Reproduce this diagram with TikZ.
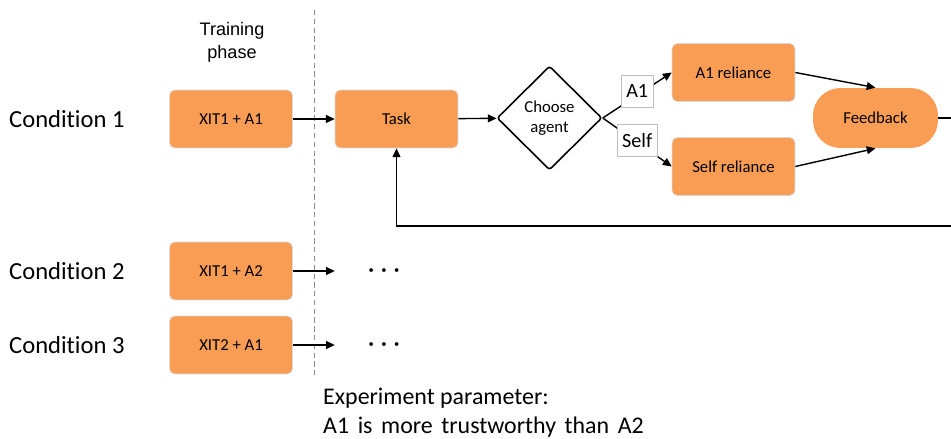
\documentclass[tikz,border=0pt]{standalone}
\usepackage{fontspec}
\setmainfont[Ligatures=NoCommon]{Carlito}
\newfontfamily\arialfont{Liberation Sans}
\usetikzlibrary{shapes.geometric,arrows.meta}
\definecolor{boxorange}{HTML}{F99D55}
\begin{document}
\begin{tikzpicture}[x=0.02cm,y=-0.02cm,
    box/.style={draw=black!15, fill=boxorange, rounded corners=3pt, minimum width=2.46cm, minimum height=1.16cm, font=\fontsize{9.5}{11}\selectfont},
    decision/.style={draw, diamond, line width=0.9pt, rounded corners=1.5pt, minimum width=2.1cm, minimum height=2.08cm, inner sep=0pt, align=center, font=\fontsize{9.5}{11}\selectfont},
    terminal/.style={fill=boxorange, rounded corners=0.55cm, minimum width=2.5cm, minimum height=1.2cm, font=\fontsize{9.5}{11}\selectfont},
    tag/.style={draw=black!25, fill=white, line width=0.4pt, minimum height=0.64cm, inner sep=3pt, font=\fontsize{11.5}{13}\selectfont},
    cond/.style={anchor=west, font=\fontsize{14}{16}\selectfont},
    flow/.style={line width=0.8pt, -{Triangle[length=5pt,width=4.5pt]}}]
    \useasboundingbox (0,0) rectangle (951,439);
    % Phase split
    \node[font=\arialfont\fontsize{10.3}{13}\selectfont, align=center] (phase) at (232,42) {Training\\phase};
    \draw[black!45, densely dashed, line width=0.5pt] (314,10) -- (314,378);
    % Condition 1
    \node[cond] (cond1) at (3,119) {Condition 1};
    \node[box] (train1) at (231,119) {XIT1 + A1};
    \node[box] (task) at (396.5,119) {Task};
    \node[decision] (choose) at (549.5,118) {Choose\\agent};
    \node[box] (relyA) at (733.5,72.5) {A1 reliance};
    \node[box] (relyS) at (733.5,166.5) {Self reliance};
    \node[terminal] (feedback) at (875.5,118) {Feedback};
    \coordinate (loopA) at (965,118);
    \coordinate (loopB) at (965,226);
    \draw[flow] (train1) -- (task);
    \draw[flow] (task) -- (choose);
    \draw[flow] (choose.east) -- (relyA.west) node[tag, pos=0.5, yshift=0.08cm] (tagA) {A1};
    \draw[flow] (choose.east) -- (relyS.west) node[tag, pos=0.5, yshift=0.04cm] (tagS) {Self};
    \draw[flow] (relyA.east) -- (feedback.north);
    \draw[flow] (relyS.east) -- (feedback.south);
    \draw[flow] (feedback.east) -- (loopA) -- (loopB) -| (task.south);
    % Conditions 2 and 3
    \foreach \n/\lbl/\y in {2/XIT1 + A2/271, 3/XIT2 + A1/345} {
        \node[cond] (cond\n) at (3,\y) {Condition \n};
        \node[box] (train\n) at (231,\y) {\lbl};
        \node[font=\fontsize{6}{8}\selectfont] (more\n) at (384,\y) {•\hspace{4.2pt}•\hspace{4.2pt}•};
        \draw[flow] (train\n.east) -- ++(42,0);
    }
    % Note
    \node[anchor=north west, align=left, font=\fontsize{13.6}{16.4}\selectfont] (note) at (317,382) {Experiment parameter:\\{\spaceskip=0.36em A1 is more trustworthy than A2}};
\end{tikzpicture}
\end{document}
